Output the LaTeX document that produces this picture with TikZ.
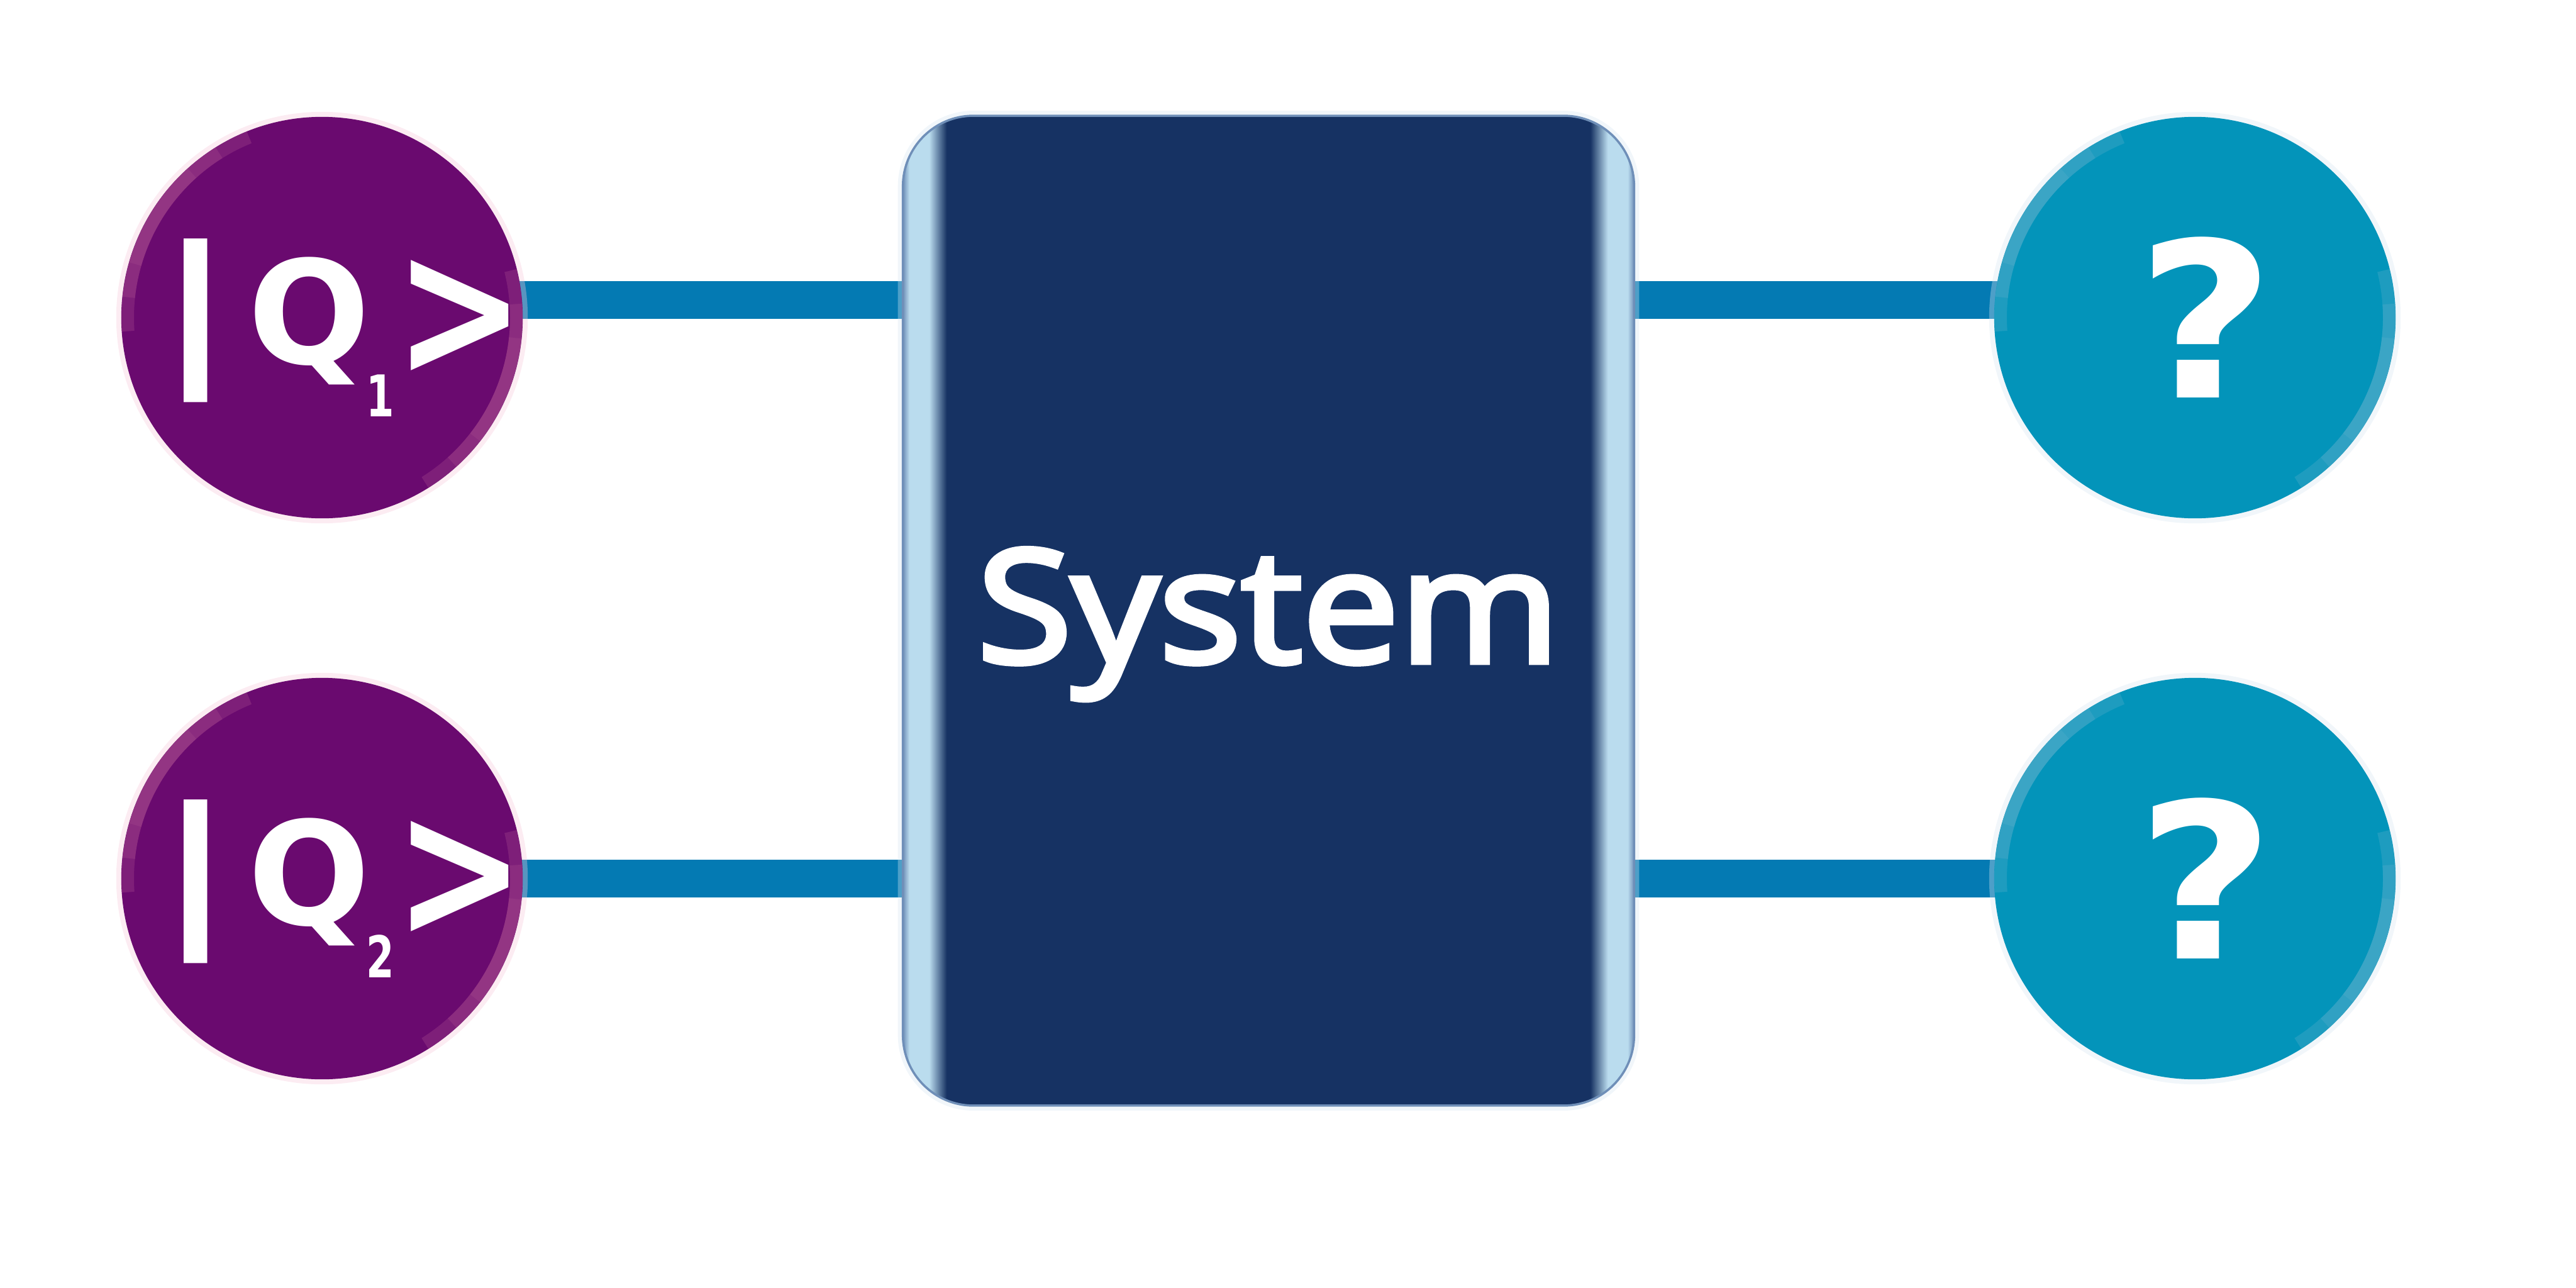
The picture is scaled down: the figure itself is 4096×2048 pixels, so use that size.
\documentclass[tikz,border=0pt]{standalone}
\usepackage{fontspec}
\setmainfont{Open Sans}
\newfontfamily\sysfont[FakeBold=3.5]{Open Sans}
\newfontfamily\ketfont{DejaVu Sans}
\usepackage{xcolor}
\usetikzlibrary{backgrounds}
\definecolor{qpurple}{HTML}{6A0A6F}
\definecolor{qpurplerim}{HTML}{A4478C}
\definecolor{qpurpleglow}{HTML}{F5C8DA}
\definecolor{qteal}{HTML}{0394BA}
\definecolor{qtealrim}{HTML}{52ADCB}
\definecolor{qtealglow}{HTML}{D6E6F2}
\definecolor{wireblue}{HTML}{047AB3}
\definecolor{navy}{HTML}{163263}
\definecolor{rimlight}{HTML}{BADCEE}
\definecolor{rimedge}{HTML}{6F8FB8}

\pgfdeclarehorizontalshading{boxrim}{100bp}{color(0bp)=(rimedge); color(25bp)=(rimedge);
  color(25.45bp)=(rimlight); color(26.8bp)=(rimlight); color(28bp)=(navy);
  color(72bp)=(navy); color(73.2bp)=(rimlight); color(74.55bp)=(rimlight);
  color(75bp)=(rimedge); color(100bp)=(rimedge)}

\newcommand{\qket}[1]{{\ketfont\bfseries
  {\fontsize{74pt}{74pt}\selectfont\scalebox{1.3}[1]{|}}\hspace{0.22cm}%
  {\fontsize{65pt}{65pt}\selectfont Q}\hspace{-0.06cm}%
  \raisebox{-0.84cm}{\fontsize{26pt}{26pt}\selectfont\scalebox{0.7}[1]{#1}}%
  \raisebox{-0.2cm}{\fontsize{80pt}{80pt}\selectfont\scalebox{0.88}[1.1]{>}}}}

\begin{document}
\begin{tikzpicture}[x=0.01cm, y=0.01cm,
    qubit/.style={circle, fill=#1, minimum size=6.38cm, inner sep=0pt,
                  text=white, align=center},
    ket/.style={text=white, inner sep=0pt, xshift=0.3cm, yshift=-0.16cm},
    glow/.style={preaction={draw=#1, line width=0.16cm, opacity=0.35}},
    rim/.style={draw=#1, line width=0.2cm, opacity=0.35},
    wire/.style={draw=wireblue, line width=0.6cm},
    sysbox/.style={shade, shading=boxrim, draw=rimedge, line width=1pt,
                   rounded corners=1.12cm, minimum width=11.62cm,
                   minimum height=15.73cm, inner sep=0pt, text=white,
                   font=\sysfont\fontsize{71pt}{71pt}\selectfont},
    query/.style={font=\ketfont\bfseries\fontsize{98pt}{98pt}\selectfont},
]
\useasboundingbox (0,0) rectangle (4096,-2048);

% Entradas
\node[qubit=qpurple, glow=qpurpleglow, label={[ket]center:\qket{1}}] (q1) at (512,-505) {};
\node[qubit=qpurple, glow=qpurpleglow, label={[ket]center:\qket{2}}] (q2) at (512,-1397) {};

% Sistema
\node[sysbox, glow=qtealglow] (sys) at (2017,-971)
    {\raisebox{-0.82cm}[0pt][0pt]{\scalebox{1.1}[1]{System}}};

% Salidas
\node[qubit=qteal, glow=qtealglow, query] (r1) at (3490,-505) {\hspace{0.35cm}\scalebox{1.1}[1]{?}};
\node[qubit=qteal, glow=qtealglow, query] (r2) at (3490,-1397) {\hspace{0.35cm}\scalebox{1.1}[1]{?}};

% Bordes
\foreach \c/\col in {q1/qpurplerim, q2/qpurplerim, r1/qtealrim, r2/qtealrim}
  \foreach \m in {148,-22}
    \foreach \w in {36,26,16}
      \draw[rim=\col] (\c.center) ++(\m-\w:309) arc[start angle=\m-\w, end angle=\m+\w, radius=309];

% Lineas
\begin{scope}[on background layer]
\draw[wire] ([yshift=0.28cm]q1.center) -- ([yshift=0.28cm]q1.center -| sys.center);
\draw[wire] ([yshift=0.28cm]sys.center |- r1.center) -- ([yshift=0.28cm]r1.center);
\draw[wire] (q2.center) -- (q2.center -| sys.center);
\draw[wire] (sys.center |- r2.center) -- (r2.center);
\end{scope}

\end{tikzpicture}
\end{document}
